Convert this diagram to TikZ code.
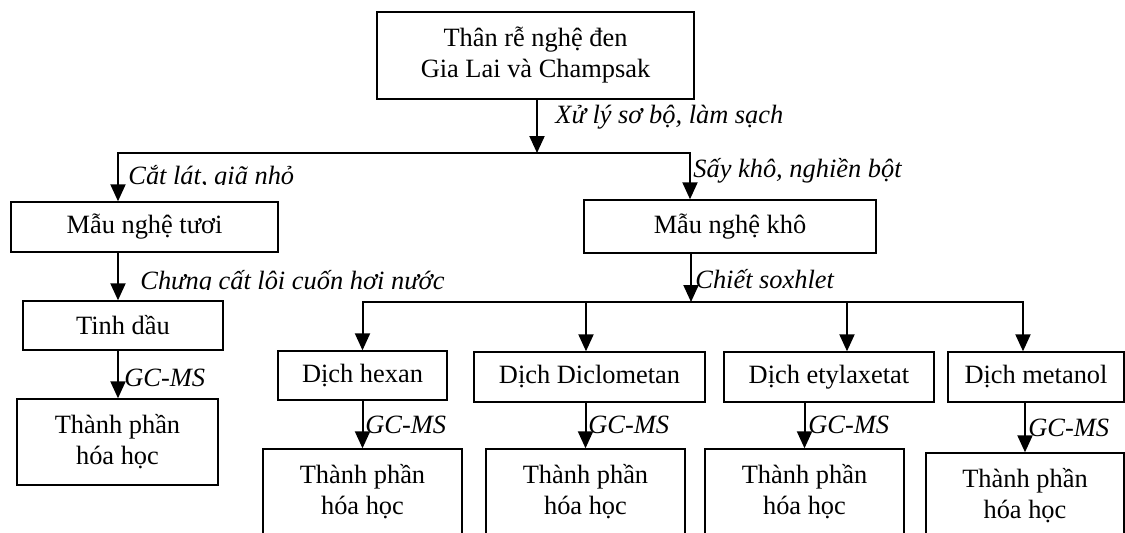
\documentclass[tikz,border=0pt]{standalone}
\usepackage{fontspec}
\setmainfont{Liberation Serif}
\usetikzlibrary{arrows.meta}
\begin{document}
\begin{tikzpicture}[x=0.5pt,y=-0.5pt,
  box/.style={draw,line width=0.7pt,inner sep=0pt,align=center,font=\fontsize{13.2}{15.5}\selectfont},
  lbl/.style={inner sep=0pt,anchor=base west,font=\fontsize{13.2}{15.5}\selectfont\itshape},
  arr/.style={line width=1pt,-{Triangle[width=7.5pt,length=8.5pt]}}]
\clip (0,0) rectangle (1125,532);
% boxes
\node[box,minimum width=158.5pt,minimum height=43.5pt] (top) at (535.5,55.5) {Thân rễ nghệ đen\\Gia Lai và Champsak};
\node[box,minimum width=133.5pt,minimum height=25pt] (tuoi) at (144.5,227) {Mẫu nghệ tươi};
\node[box,minimum width=146pt,minimum height=26.5pt] (kho) at (730,226.5) {Mẫu nghệ khô};
\node[box,minimum width=100pt,minimum height=24.5pt] (tinh) at (123,325.5) {Tinh dầu};
\node[box,minimum width=100.5pt,minimum height=43pt] (tp0) at (117.5,442) {Thành phần\\hóa học};
\node[box,minimum width=84.5pt,minimum height=24.5pt] (hex) at (362.5,375.5) {Dịch hexan};
\node[box,minimum width=115.5pt,minimum height=25pt] (dcm) at (589.5,377) {Dịch Diclometan};
\node[box,minimum width=105pt,minimum height=25pt] (ety) at (829,377) {Dịch etylaxetat};
\node[box,minimum width=88pt,minimum height=25pt] (met) at (1036,377) {Dịch metanol};
\node[box,minimum width=99.5pt,minimum height=43pt] (tp1) at (362.5,492) {Thành phần\\hóa học};
\node[box,minimum width=99.5pt,minimum height=43pt] (tp2) at (585.5,492) {Thành phần\\hóa học};
\node[box,minimum width=99.5pt,minimum height=43pt] (tp3) at (804.5,492) {Thành phần\\hóa học};
\node[box,minimum width=99pt,minimum height=43pt] (tp4) at (1025,496) {Thành phần\\hóa học};
% junctions
\coordinate (j1) at (537,153);
\coordinate (bL) at (118,153);
\coordinate (bR) at (690,153);
\coordinate (j2) at (691,302);
\coordinate (c2) at (586,302);
\coordinate (c3) at (847,302);
\coordinate (c4) at (1023,302);
% connectors
\draw[arr] (top.south -| j1) -- (j1);
\draw[arr] (j1) -| (bL |- tuoi.north);
\draw[arr] (j1) -| (bR |- kho.north);
\draw[arr] (bL |- tuoi.south) -- (bL |- tinh.north);
\draw[arr] (bL |- tinh.south) -- (bL |- tp0.north);
\draw[arr] (kho.south -| j2) -- (j2);
\draw[arr] (j2) -| (hex.north);
\draw[arr] (j2) -| (c4 |- met.north);
\draw[arr] (c2) -- (c2 |- dcm.north);
\draw[arr] (c3) -- (c3 |- ety.north);
\draw[arr] (tp1.north |- hex.south) -- (tp1.north);
\draw[arr] (tp2.north |- dcm.south) -- (tp2.north);
\draw[arr] (tp3.north |- ety.south) -- (tp3.north);
\draw[arr] (tp4.north |- met.south) -- (tp4.north);
% labels
\node[lbl] (l1) at (555,123) {Xử lý sơ bộ, làm sạch};
\begin{scope}
\clip (120,140) rectangle (420,184.5);
\node[lbl] (l2) at (128,184) {Cắt lát, giã nhỏ};
\end{scope}
\node[lbl] (l3) at (693,177) {Sấy khô, nghiền bột};
\begin{scope}
\clip (130,255) rectangle (570,289.5);
\node[lbl] (l4) at (140,289) {Chưng cất lôi cuốn hơi nước};
\end{scope}
\node[lbl] (l5) at (695,288) {Chiết soxhlet};
\node[lbl] (g0) at (124,386) {GC-MS};
\node[lbl] (g1) at (365,433) {GC-MS};
\node[lbl] (g2) at (588,433) {GC-MS};
\node[lbl] (g3) at (808,433) {GC-MS};
\node[lbl] (g4) at (1028,436) {GC-MS};
\end{tikzpicture}
\end{document}
